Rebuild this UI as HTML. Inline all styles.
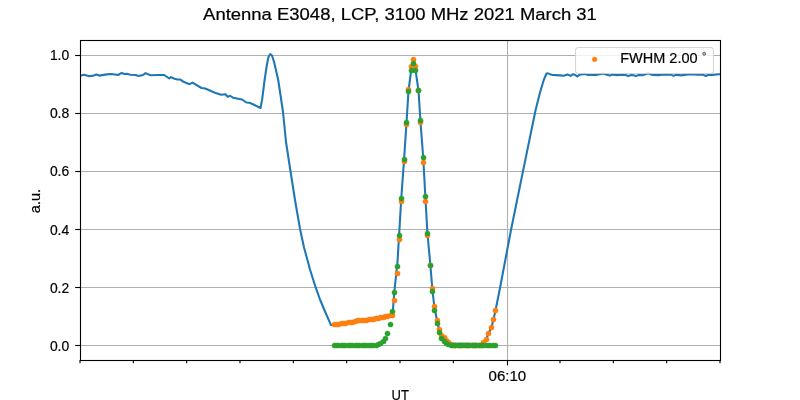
<!DOCTYPE html>
<html><head><meta charset="utf-8"><style>
html,body{margin:0;padding:0;background:#fff;width:800px;height:400px;overflow:hidden}
svg{display:block;will-change:transform}
text{font-family:"Liberation Sans",sans-serif;fill:#000;stroke:#000;stroke-width:0.2px}
</style></head><body>
<svg width="800" height="400" viewBox="0 0 800 400">
<defs><clipPath id="ax"><rect x="80" y="40" width="641" height="321"/></clipPath></defs><rect width="800" height="400" fill="#fff"/>
<g stroke="#b0b0b0" stroke-width="1.11"><line x1="80" x2="720" y1="345.5" y2="345.5"/><line x1="80" x2="720" y1="287.5" y2="287.5"/><line x1="80" x2="720" y1="229.5" y2="229.5"/><line x1="80" x2="720" y1="171.5" y2="171.5"/><line x1="80" x2="720" y1="113.5" y2="113.5"/><line x1="80" x2="720" y1="55.5" y2="55.5"/><line x1="507.5" x2="507.5" y1="40" y2="360"/></g>
<polyline clip-path="url(#ax)" points="80.50,75.60 84.25,74.75 89.25,76.25 93.60,75.60 96.50,74.60 99.25,75.60 106.75,74.40 111.75,74.00 118.00,75.00 121.75,72.90 124.25,74.00 126.75,73.75 130.50,74.75 135.50,75.00 138.60,76.00 143.00,75.00 145.50,73.10 150.50,75.25 158.00,75.00 164.25,75.00 169.25,78.50 171.00,77.10 174.50,78.80 177.50,79.55 180.50,79.55 183.50,81.80 189.50,84.20 192.50,82.55 201.50,88.00 205.25,88.55 209.75,90.50 215.00,92.75 221.00,94.70 225.50,94.25 227.75,96.95 230.00,95.75 233.00,97.70 242.00,99.50 246.50,102.50 249.50,102.80 254.00,104.75 260.50,108.00 262.20,99.20 264.60,80.00 267.00,64.00 268.50,57.00 270.20,54.20 272.00,55.50 274.20,62.40 278.20,80.00 280.50,95.00 283.00,112.00 286.00,142.00 290.50,171.25 295.00,200.00 300.00,228.75 304.00,247.50 308.00,262.00 310.00,269.50 315.60,287.20 320.00,299.50 325.00,311.50 331.00,325.20 342.50,323.10 355.00,320.60 367.50,318.75 380.00,316.90 392.50,315.00 394.50,290.00 397.50,262.00 401.30,198.00 404.10,159.00 406.50,122.50 408.50,91.00 411.20,70.00 413.30,62.00 415.50,70.00 418.50,90.50 420.50,122.00 423.25,158.25 425.40,197.40 427.40,233.00 430.40,265.40 432.40,290.00 434.50,308.00 437.40,322.00 439.40,331.00 441.90,337.00 445.50,341.00 448.50,343.50 482.00,344.00 486.20,339.20 488.50,333.50 491.50,327.20 493.50,319.20 495.50,310.50 500.00,288.00 511.00,230.00 522.90,171.60 535.60,110.00 540.00,92.50 543.75,80.00 546.50,73.50 548.00,73.35 550.25,74.25 552.50,75.00 556.25,75.15 560.00,75.40 563.75,75.75 567.50,74.40 570.50,75.90 572.75,74.25 575.00,74.85 577.25,76.35 579.50,74.85 582.50,74.25 584.75,73.90 587.75,74.85 591.50,75.00 596.00,74.85 599.75,74.25 603.00,73.60 606.00,74.60 609.75,75.60 613.00,74.60 617.25,75.15 622.00,74.60 625.50,75.00 628.50,76.10 631.00,74.90 633.50,75.20 636.00,76.10 638.50,74.90 642.75,75.20 648.00,73.35 652.50,75.00 658.50,75.10 662.00,74.80 667.50,74.60 671.00,74.60 673.50,75.90 676.00,74.60 681.00,75.40 686.00,74.60 690.00,74.25 697.50,74.60 703.00,74.60 705.75,76.00 708.50,74.80 712.50,74.85 718.50,74.25 721.00,74.30" fill="none" stroke="#1f77b4" stroke-width="2.08" stroke-linejoin="round" stroke-linecap="square"/>
<g fill="#ff7f0e" stroke="#ff7f0e" stroke-width="0.4"><circle cx="334.50" cy="324.50" r="2.6"/><circle cx="336.50" cy="324.50" r="2.6"/><circle cx="338.50" cy="324.50" r="2.6"/><circle cx="341.50" cy="323.50" r="2.6"/><circle cx="343.50" cy="323.50" r="2.6"/><circle cx="345.50" cy="323.50" r="2.6"/><circle cx="348.50" cy="322.50" r="2.6"/><circle cx="350.50" cy="322.50" r="2.6"/><circle cx="352.50" cy="322.50" r="2.6"/><circle cx="355.50" cy="321.50" r="2.6"/><circle cx="357.50" cy="320.50" r="2.6"/><circle cx="359.50" cy="320.50" r="2.6"/><circle cx="362.50" cy="320.50" r="2.6"/><circle cx="364.50" cy="320.50" r="2.6"/><circle cx="366.50" cy="320.50" r="2.6"/><circle cx="369.50" cy="319.50" r="2.6"/><circle cx="371.50" cy="319.50" r="2.6"/><circle cx="373.50" cy="319.50" r="2.6"/><circle cx="376.50" cy="318.50" r="2.6"/><circle cx="378.50" cy="318.50" r="2.6"/><circle cx="380.50" cy="317.50" r="2.6"/><circle cx="383.50" cy="317.50" r="2.6"/><circle cx="385.50" cy="316.50" r="2.6"/><circle cx="387.50" cy="316.50" r="2.6"/><circle cx="390.50" cy="315.50" r="2.6"/><circle cx="392.50" cy="315.50" r="2.6"/><circle cx="394.50" cy="300.50" r="2.6"/><circle cx="397.50" cy="273.50" r="2.6"/><circle cx="399.50" cy="239.50" r="2.6"/><circle cx="401.50" cy="201.50" r="2.6"/><circle cx="404.50" cy="161.50" r="2.6"/><circle cx="406.50" cy="124.50" r="2.6"/><circle cx="408.50" cy="89.50" r="2.6"/><circle cx="411.50" cy="66.50" r="2.6"/><circle cx="413.50" cy="59.50" r="2.6"/><circle cx="415.50" cy="66.50" r="2.6"/><circle cx="418.50" cy="90.50" r="2.6"/><circle cx="420.50" cy="122.50" r="2.6"/><circle cx="423.50" cy="162.50" r="2.6"/><circle cx="425.50" cy="201.50" r="2.6"/><circle cx="427.50" cy="235.50" r="2.6"/><circle cx="430.50" cy="265.50" r="2.6"/><circle cx="432.50" cy="288.50" r="2.6"/><circle cx="434.50" cy="306.50" r="2.6"/><circle cx="437.50" cy="320.50" r="2.6"/><circle cx="439.50" cy="329.50" r="2.6"/><circle cx="441.50" cy="335.50" r="2.6"/><circle cx="444.50" cy="337.50" r="2.6"/><circle cx="446.50" cy="340.50" r="2.6"/><circle cx="448.50" cy="342.50" r="2.6"/><circle cx="451.50" cy="344.50" r="2.6"/><circle cx="453.50" cy="345.50" r="2.6"/><circle cx="455.50" cy="345.50" r="2.6"/><circle cx="458.50" cy="345.50" r="2.6"/><circle cx="460.50" cy="345.50" r="2.6"/><circle cx="462.50" cy="345.50" r="2.6"/><circle cx="465.50" cy="345.50" r="2.6"/><circle cx="467.50" cy="345.50" r="2.6"/><circle cx="469.50" cy="345.50" r="2.6"/><circle cx="472.50" cy="345.50" r="2.6"/><circle cx="474.50" cy="345.50" r="2.6"/><circle cx="476.50" cy="345.50" r="2.6"/><circle cx="479.50" cy="345.50" r="2.6"/><circle cx="481.50" cy="345.50" r="2.6"/><circle cx="483.50" cy="342.50" r="2.6"/><circle cx="486.50" cy="339.50" r="2.6"/><circle cx="488.50" cy="333.50" r="2.6"/><circle cx="491.50" cy="327.50" r="2.6"/><circle cx="493.50" cy="319.50" r="2.6"/><circle cx="495.50" cy="310.50" r="2.6"/></g>
<g fill="#2ca02c" stroke="#2ca02c" stroke-width="0.4"><circle cx="334.50" cy="345.50" r="2.6"/><circle cx="336.50" cy="345.50" r="2.6"/><circle cx="338.50" cy="345.50" r="2.6"/><circle cx="341.50" cy="345.50" r="2.6"/><circle cx="343.50" cy="345.50" r="2.6"/><circle cx="345.50" cy="345.50" r="2.6"/><circle cx="348.50" cy="345.50" r="2.6"/><circle cx="350.50" cy="345.50" r="2.6"/><circle cx="352.50" cy="345.50" r="2.6"/><circle cx="355.50" cy="345.50" r="2.6"/><circle cx="357.50" cy="345.50" r="2.6"/><circle cx="359.50" cy="345.50" r="2.6"/><circle cx="362.50" cy="345.50" r="2.6"/><circle cx="364.50" cy="345.50" r="2.6"/><circle cx="366.50" cy="345.50" r="2.6"/><circle cx="369.50" cy="345.50" r="2.6"/><circle cx="371.50" cy="345.50" r="2.6"/><circle cx="373.50" cy="345.50" r="2.6"/><circle cx="376.50" cy="345.50" r="2.6"/><circle cx="378.50" cy="344.50" r="2.6"/><circle cx="380.50" cy="343.50" r="2.6"/><circle cx="383.50" cy="341.50" r="2.6"/><circle cx="385.50" cy="338.50" r="2.6"/><circle cx="387.50" cy="333.50" r="2.6"/><circle cx="390.50" cy="324.50" r="2.6"/><circle cx="392.50" cy="311.50" r="2.6"/><circle cx="394.50" cy="292.50" r="2.6"/><circle cx="397.50" cy="266.50" r="2.6"/><circle cx="399.50" cy="235.50" r="2.6"/><circle cx="401.50" cy="198.50" r="2.6"/><circle cx="404.50" cy="159.50" r="2.6"/><circle cx="406.50" cy="122.50" r="2.6"/><circle cx="408.50" cy="91.50" r="2.6"/><circle cx="411.50" cy="70.50" r="2.6"/><circle cx="413.50" cy="63.50" r="2.6"/><circle cx="415.50" cy="70.50" r="2.6"/><circle cx="418.50" cy="90.50" r="2.6"/><circle cx="420.50" cy="120.50" r="2.6"/><circle cx="423.50" cy="157.50" r="2.6"/><circle cx="425.50" cy="196.50" r="2.6"/><circle cx="427.50" cy="233.50" r="2.6"/><circle cx="430.50" cy="265.50" r="2.6"/><circle cx="432.50" cy="291.50" r="2.6"/><circle cx="434.50" cy="310.50" r="2.6"/><circle cx="437.50" cy="323.50" r="2.6"/><circle cx="439.50" cy="332.50" r="2.6"/><circle cx="441.50" cy="338.50" r="2.6"/><circle cx="444.50" cy="341.50" r="2.6"/><circle cx="446.50" cy="343.50" r="2.6"/><circle cx="448.50" cy="344.50" r="2.6"/><circle cx="451.50" cy="345.50" r="2.6"/><circle cx="453.50" cy="345.50" r="2.6"/><circle cx="455.50" cy="345.50" r="2.6"/><circle cx="458.50" cy="345.50" r="2.6"/><circle cx="460.50" cy="345.50" r="2.6"/><circle cx="462.50" cy="345.50" r="2.6"/><circle cx="465.50" cy="345.50" r="2.6"/><circle cx="467.50" cy="345.50" r="2.6"/><circle cx="469.50" cy="345.50" r="2.6"/><circle cx="472.50" cy="345.50" r="2.6"/><circle cx="474.50" cy="345.50" r="2.6"/><circle cx="476.50" cy="345.50" r="2.6"/><circle cx="479.50" cy="345.50" r="2.6"/><circle cx="481.50" cy="345.50" r="2.6"/><circle cx="483.50" cy="345.50" r="2.6"/><circle cx="486.50" cy="345.50" r="2.6"/><circle cx="488.50" cy="345.50" r="2.6"/><circle cx="490.50" cy="345.50" r="2.6"/><circle cx="493.50" cy="345.50" r="2.6"/><circle cx="495.50" cy="345.50" r="2.6"/></g>
<rect x="80.5" y="40.5" width="640" height="320" fill="none" stroke="#000" stroke-width="1.11"/>
<g stroke="#000" stroke-width="1.11"><line x1="75.2" x2="80" y1="345.5" y2="345.5"/><line x1="75.2" x2="80" y1="287.5" y2="287.5"/><line x1="75.2" x2="80" y1="229.5" y2="229.5"/><line x1="75.2" x2="80" y1="171.5" y2="171.5"/><line x1="75.2" x2="80" y1="113.5" y2="113.5"/><line x1="75.2" x2="80" y1="55.5" y2="55.5"/><line x1="80.00" x2="80.00" y1="360" y2="363.2"/><line x1="133.33" x2="133.33" y1="360" y2="363.2"/><line x1="186.67" x2="186.67" y1="360" y2="363.2"/><line x1="240.00" x2="240.00" y1="360" y2="363.2"/><line x1="293.33" x2="293.33" y1="360" y2="363.2"/><line x1="346.67" x2="346.67" y1="360" y2="363.2"/><line x1="400.00" x2="400.00" y1="360" y2="363.2"/><line x1="453.33" x2="453.33" y1="360" y2="363.2"/><line x1="560.00" x2="560.00" y1="360" y2="363.2"/><line x1="613.33" x2="613.33" y1="360" y2="363.2"/><line x1="666.67" x2="666.67" y1="360" y2="363.2"/><line x1="720.00" x2="720.00" y1="360" y2="363.2"/><line x1="507.5" x2="507.5" y1="360" y2="365.4"/></g>
<g font-size="14.6"><text x="69.2" y="350.90" text-anchor="end" textLength="19.3" lengthAdjust="spacingAndGlyphs">0.0</text><text x="69.2" y="292.90" text-anchor="end" textLength="19.3" lengthAdjust="spacingAndGlyphs">0.2</text><text x="69.2" y="234.90" text-anchor="end" textLength="19.3" lengthAdjust="spacingAndGlyphs">0.4</text><text x="69.2" y="175.90" text-anchor="end" textLength="19.3" lengthAdjust="spacingAndGlyphs">0.6</text><text x="69.2" y="117.90" text-anchor="end" textLength="19.3" lengthAdjust="spacingAndGlyphs">0.8</text><text x="69.2" y="59.90" text-anchor="end" textLength="19.3" lengthAdjust="spacingAndGlyphs">1.0</text></g>
<text x="507.35" y="381" text-anchor="middle" font-size="14.6" textLength="37.7" lengthAdjust="spacingAndGlyphs">06:10</text>
<text x="400.3" y="399.5" text-anchor="middle" font-size="14.6" textLength="17.4" lengthAdjust="spacingAndGlyphs">UT</text>
<text transform="translate(40.2,201) rotate(-90)" text-anchor="middle" font-size="14.6">a.u.</text>
<text x="203.1" y="19.9" font-size="16.3" textLength="393.8" lengthAdjust="spacingAndGlyphs">Antenna E3048, LCP, 3100 MHz 2021 March 31</text>
<rect x="575.5" y="47.5" width="138" height="26" rx="3.2" fill="#fff" fill-opacity="0.8" stroke="#cccccc" stroke-opacity="0.8" stroke-width="1.11"/>
<circle cx="594.6" cy="59.4" r="2.45" fill="#ff7f0e" stroke="#ff7f0e" stroke-width="0.4"/>
<text x="620.2" y="63" font-size="14.6" textLength="77.4" lengthAdjust="spacingAndGlyphs">FWHM 2.00</text>
<circle cx="704.2" cy="53.8" r="1.5" fill="#b5b5b5" stroke="#444" stroke-width="0.7"/>
</svg>
</body></html>
